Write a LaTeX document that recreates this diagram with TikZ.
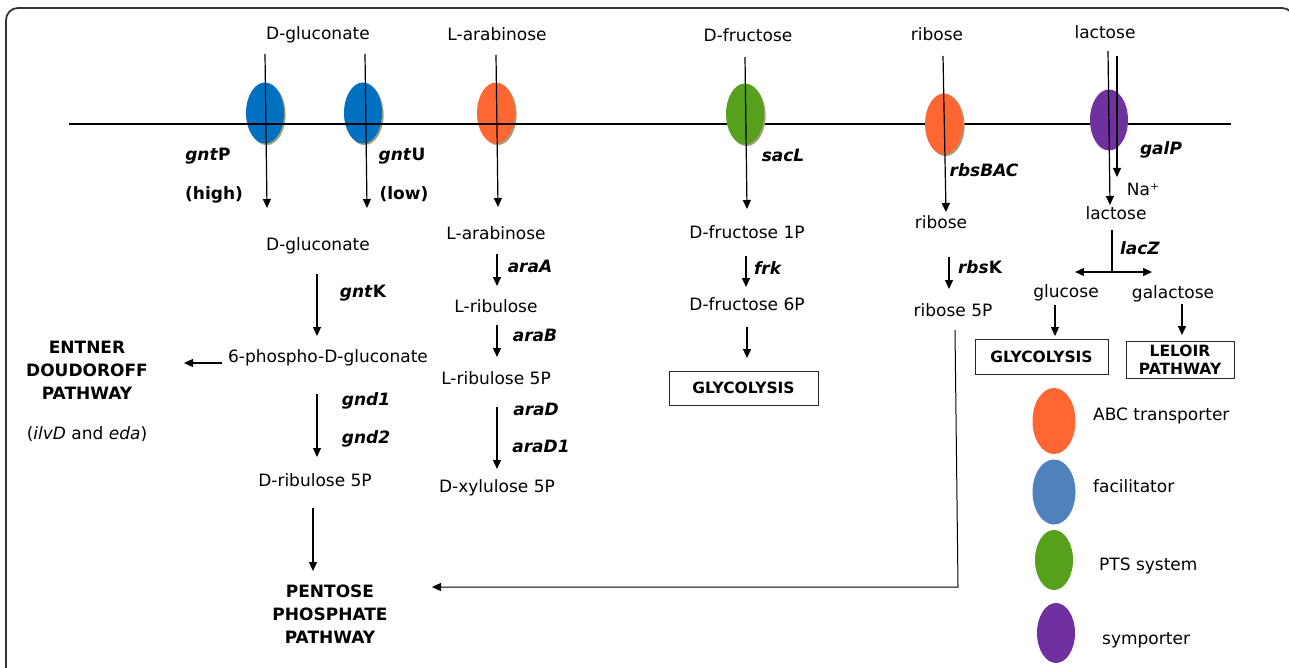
\documentclass[tikz,border=0pt]{standalone}
\usepackage{fontspec}
\setmainfont{DejaVu Sans}
\usetikzlibrary{arrows.meta,shapes.geometric,shadows}
\definecolor{tblue}{RGB}{0,112,192}
\definecolor{lblue}{RGB}{79,129,189}
\definecolor{torange}{RGB}{255,102,51}
\definecolor{tgreen}{RGB}{86,160,30}
\definecolor{tpurple}{RGB}{112,48,160}
\definecolor{shad}{RGB}{160,160,120}
\begin{document}
\begin{tikzpicture}[x=1pt,y=-1pt,
  txt/.style={inner sep=0pt, font=\fontsize{17}{23}\selectfont, text height=12.4pt, text depth=0pt, align=center},
  lbl/.style={txt, font=\fontsize{17}{23}\selectfont\bfseries},
  boxt/.style={draw=black!85, line width=1pt, inner sep=0pt, font=\fontsize{15.5}{18}\selectfont\bfseries, text height=11.3pt, text depth=0pt, align=center},
  emptybox/.style={draw=black!85, line width=1pt, inner sep=0pt},
  arr/.style={line width=1.2pt, -{Triangle[length=9pt,width=8pt]}},
  ln/.style={line width=1.2pt},
  transp/.style={ellipse, inner sep=0pt, minimum width=38pt, minimum height=61pt, draw=none},
  tshadow/.style={drop shadow={shadow xshift=1.6pt, shadow yshift=-1.6pt, fill=shad, opacity=1}},
  legend/.style={ellipse, inner sep=0pt, draw=none}
]
\useasboundingbox (0,0) rectangle (1289,668);
\begin{scope}
\clip (0,0) rectangle (1289,668);
\draw[line width=1.8pt, black!80, rounded corners=12pt] (6,8) rectangle (1294,720);
\end{scope}

% transporters drawn under the membrane line
\node[transp, tshadow, fill=tblue] (eP) at (265,113) {};
\node[transp, tshadow, fill=tblue] (eU) at (363,113) {};
\node[transp, tshadow, fill=torange] (eA) at (496,113) {};
% membrane
\coordinate (m1) at (69,124);
\coordinate (m2) at (1231,124);
\draw[line width=1.2pt] (m1) -- (m2);
% transporters drawn over the membrane line
\node[transp, tshadow, fill=tgreen] (eF) at (745,114) {};
\node[transp, tshadow, fill=torange] (eR) at (944,124) {};
\node[transp, fill=tpurple] (eL) at (1109,120) {};

% outside substrates
\node[txt] (glcO) at (318,33) {D-gluconate};
\node[txt] (araO) at (497,34) {L-arabinose};
\node[txt] (fruO) at (748,35) {D-fructose};
\node[txt] (ribO) at (937,34) {ribose};
\node[txt] (lacO) at (1105,32) {lactose};

% uptake arrows
\coordinate (p1) at (265,54);  \coordinate (p2) at (267,208);
\coordinate (u1) at (365,54);  \coordinate (u2) at (367,208);
\coordinate (a1) at (496,55);  \coordinate (a2) at (498,207);
\coordinate (f1) at (745,57);  \coordinate (f2) at (747,209);
\coordinate (r1) at (943,56);  \coordinate (r2) at (946,212);
\coordinate (l1) at (1108,51); \coordinate (l2) at (1110,205);
\coordinate (n1) at (1117,56); \coordinate (n2) at (1117,177);
\draw[arr] (p1) -- (p2);
\draw[arr] (u1) -- (u2);
\draw[arr] (a1) -- (a2);
\draw[arr] (f1) -- (f2);
\draw[arr] (r1) -- (r2);
\draw[arr] (l1) -- (l2);
\draw[arr] (n1) -- (n2);

% transporter labels
\node[lbl] (gntP) at (208,154) {\textit{gnt}P};
\node[lbl] (high) at (214,193) {(high)};
\node[lbl] (gntU) at (402,154) {\textit{gnt}U};
\node[lbl] (low) at (404,193) {(low)};
\node[lbl] (sacL) at (783,155) {\textit{sacL}};
\node[lbl] (rbsBAC) at (984,170) {\textit{rbsBAC}};
\node[lbl] (galP) at (1161,148) {\textit{galP}};
\node[txt] (na) at (1143,189) {Na⁺};

% gluconate branch
\node[txt] (glcI) at (318,244) {D-gluconate};
\node[lbl] (gntK) at (363,291) {\textit{gnt}K};
\node[txt] (pg) at (328,356) {6-phospho-D-gluconate};
\node[lbl] (ed) at (87,393) {ENTNER\\DOUDOROFF\\PATHWAY};
\node[txt] (ilv) at (87,433) {(\textit{ilvD} and \textit{eda})};
\node[lbl] (gnd1) at (366,399) {\textit{gnd1}};
\node[lbl] (gnd2) at (366,437) {\textit{gnd2}};
\node[txt] (rul) at (315,480) {D-ribulose 5P};
\node[lbl] (ppp) at (330,637) {PENTOSE\\PHOSPHATE\\PATHWAY};
\coordinate (g1) at (317,274); \coordinate (g2) at (317,336);
\coordinate (e1) at (222,363); \coordinate (e2) at (184,363);
\coordinate (d1) at (317,394); \coordinate (d2) at (317,457);
\coordinate (q1) at (313,508); \coordinate (q2) at (313,571);
\draw[arr] (g1) -- (g2);
\draw[arr] (e1) -- (e2);
\draw[arr] (d1) -- (d2);
\draw[arr] (q1) -- (q2);

% arabinose branch
\node[txt] (araI) at (496,233) {L-arabinose};
\node[lbl] (araA) at (530,266) {\textit{araA}};
\node[txt] (lrib) at (496,306) {L-ribulose};
\node[lbl] (araB) at (535,335) {\textit{araB}};
\node[txt] (lrib5) at (496,378) {L-ribulose 5P};
\node[lbl] (araD) at (536,409) {\textit{araD}};
\node[lbl] (araD1) at (541,446) {\textit{araD1}};
\node[txt] (xyl) at (497,486) {D-xylulose 5P};
\coordinate (b1) at (497,254); \coordinate (b2) at (497,286);
\coordinate (c1) at (497,325); \coordinate (c2) at (497,357);
\coordinate (h1) at (497,407); \coordinate (h2) at (497,469);
\draw[arr] (b1) -- (b2);
\draw[arr] (c1) -- (c2);
\draw[arr] (h1) -- (h2);

% fructose branch
\node[txt] (f1p) at (747,232) {D-fructose 1P};
\node[lbl] (frk) at (768,268) {\textit{frk}};
\node[txt] (f6p) at (747,304) {D-fructose 6P};
\node[boxt, minimum width=149pt, minimum height=34pt] (gly1) at (743.5,388) {GLYCOLYSIS};
\coordinate (k1) at (746,256); \coordinate (k2) at (746,287);
\coordinate (k3) at (747,327); \coordinate (k4) at (747,358);
\draw[arr] (k1) -- (k2);
\draw[arr] (k3) -- (k4);

% ribose branch
\node[txt] (ribI) at (941,222) {ribose};
\node[lbl] (rbsK) at (980,267) {\textit{rbs}K};
\node[txt] (r5p) at (953,310) {ribose 5P};
\coordinate (s1) at (949,257); \coordinate (s2) at (949,289);
\draw[arr] (s1) -- (s2);
\coordinate (t1) at (955,330); \coordinate (t2) at (958,587); \coordinate (t3) at (432,587);
\draw[arr, line width=1pt] (t1) -- (t2) -- (t3);

% lactose branch
\node[txt] (lacI) at (1116,213) {lactose};
\node[lbl] (lacZ) at (1140,248) {\textit{lacZ}};
\node[txt] (glu) at (1066,291) {glucose};
\node[txt] (gal) at (1173,292) {galactose};
\coordinate (z1) at (1112,230); \coordinate (z2) at (1112,272);
\coordinate (zl) at (1075,272); \coordinate (zr) at (1152,272);
\draw[ln] (z1) -- (z2);
\draw[line width=1.2pt, {Triangle[length=9pt,width=8pt]}-{Triangle[length=9pt,width=8pt]}] (zl) -- (zr);
\node[boxt, minimum width=133pt, minimum height=35pt] (gly2) at (1041.5,356.5) {GLYCOLYSIS};
\node[emptybox, minimum width=108pt, minimum height=37pt] (lelbox) at (1180,359.5) {};
\node[boxt, draw=none] (lel) at (1180,369) {LELOIR\\PATHWAY};
\coordinate (w1) at (1055,305); \coordinate (w2) at (1055,336);
\coordinate (v1) at (1182,304); \coordinate (v2) at (1182,335);
\draw[arr] (w1) -- (w2);
\draw[arr] (v1) -- (v2);

% legend
\node[legend, fill=torange, minimum width=43pt, minimum height=66pt] (k_abc) at (1054,421) {};
\node[txt, anchor=west] (t_abc) at (1093,414) {ABC transporter};
\node[legend, fill=lblue, minimum width=43pt, minimum height=65pt] (k_fac) at (1054,492) {};
\node[txt, anchor=west] (t_fac) at (1093,486) {facilitator};
\node[legend, fill=tgreen, minimum width=38pt, minimum height=60pt] (k_pts) at (1054,560) {};
\node[txt, anchor=west] (t_pts) at (1099,564) {PTS system};
\node[legend, fill=tpurple, minimum width=38pt, minimum height=60pt] (k_sym) at (1056,633) {};
\node[txt, anchor=west] (t_sym) at (1102,638) {symporter};
\end{tikzpicture}
\end{document}
